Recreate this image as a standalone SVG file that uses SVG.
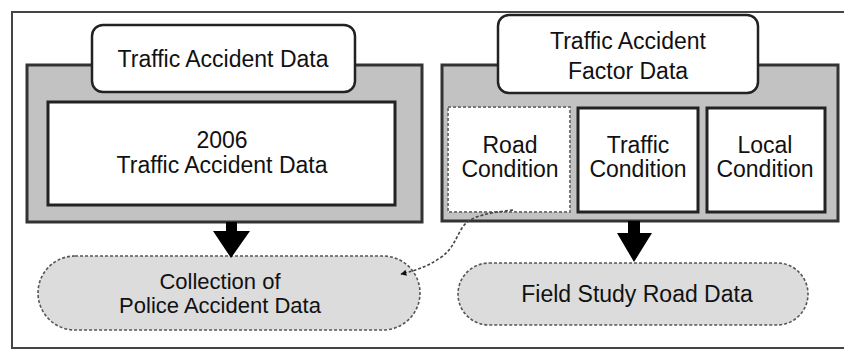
<svg xmlns="http://www.w3.org/2000/svg" width="844" height="350" viewBox="0 0 844 350">
<style>
text{font-family:"Liberation Sans",Arial,sans-serif;font-size:23px;fill:#111;text-anchor:middle}
.sm{font-size:22px}
.panel{fill:#c2c2c2;stroke:#333;stroke-width:3}
.box{fill:#fff;stroke:#222;stroke-width:3}
.dbox{fill:#fff;stroke:#777;stroke-width:2;stroke-dasharray:3 2}
.lbl{fill:#fff;stroke:#222;stroke-width:2.5}
.oval{fill:#dcdcdc;stroke:#555;stroke-width:1.6;stroke-dasharray:3 2}
.arr{fill:#000}
.conn{fill:none;stroke:#444;stroke-width:1.6;stroke-dasharray:3 2}
</style>
<defs>
<marker id="ah" viewBox="0 0 10 10" refX="9" refY="5" markerWidth="6" markerHeight="6" orient="auto" markerUnits="userSpaceOnUse">
<path d="M0,0 L10,5 L0,10 z" fill="#111"/>
</marker>
</defs>
<g id="frame">
<path d="M844,12 H12 V348 H844" fill="none" stroke="#444" stroke-width="2"/>
</g>
<g id="panel-left">
<rect class="panel" x="27" y="65" width="395" height="157"/>
<rect class="lbl" x="92" y="25" width="263" height="67" rx="11"/>
<text x="223" y="67">Traffic Accident Data</text>
</g>
<g id="box-2006">
<rect class="box" x="48" y="102" width="347" height="103"/>
<text x="222" y="148">2006</text>
<text x="222" y="173">Traffic Accident Data</text>
</g>
<g id="panel-right">
<rect class="panel" x="442" y="65" width="396" height="156"/>
<rect class="lbl" x="498" y="15" width="260" height="78" rx="11"/>
<text x="628" y="49">Traffic Accident</text>
<text x="628" y="79">Factor Data</text>
</g>
<g id="road">
<rect class="dbox" x="448" y="107" width="122" height="105"/>
<text x="510" y="153">Road</text>
<text x="510" y="177">Condition</text>
</g>
<g id="traffic">
<rect class="box" x="578" y="108" width="120" height="104"/>
<text x="638" y="153">Traffic</text>
<text x="638" y="177">Condition</text>
</g>
<g id="local">
<rect class="box" x="707" y="108" width="118" height="104"/>
<text x="765" y="153">Local</text>
<text x="765" y="177">Condition</text>
</g>
<g id="police">
<rect class="oval" x="38" y="256" width="382" height="74" rx="37"/>
<text class="sm" x="220" y="289">Collection of</text>
<text class="sm" x="220" y="313">Police Accident Data</text>
</g>
<g id="field">
<rect class="oval" x="458" y="263" width="350" height="62" rx="31"/>
<text x="637" y="302">Field Study Road Data</text>
</g>
<g id="connectors">
<polygon class="arr" points="226,222 237,222 237,231 250,231 231,258 213,231 226,231"/>
<polygon class="arr" points="628,221 640,221 640,233 652,233 634,262 617,233 628,233"/>
<path class="conn" d="M513,210 C490,213 470,215 462,228 C455,240 452,250 440,258 C428,266 418,270 401,274" marker-end="url(#ah)"/>
</g>
</svg>
